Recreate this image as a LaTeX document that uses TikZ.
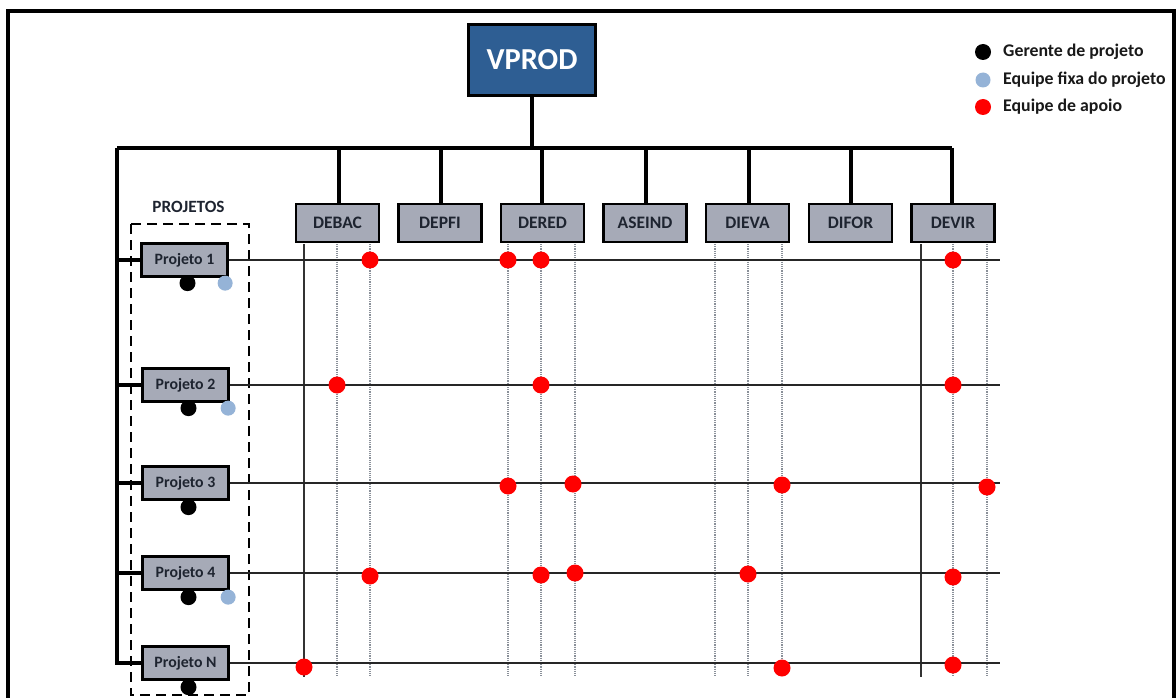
\documentclass[tikz,border=0pt]{standalone}
\usepackage{fontspec}
\setmainfont{Carlito}
\usetikzlibrary{calc}
\definecolor{vblue}{HTML}{2E5E93}
\definecolor{boxgray}{HTML}{A6AAB7}
\definecolor{txt}{HTML}{1E2430}
\definecolor{lblue}{HTML}{95B3D7}
\definecolor{dotgray}{HTML}{8A9099}
\tikzset{
  x=1pt, y=-1pt,
  thickline/.style={line width=3.4},
  thinline/.style={line width=1.2, draw=black!85},
  solidv/.style={line width=1.1, draw=black!80},
  dottedv/.style={line width=1.2, draw=dotgray, dash pattern=on 1.2pt off 1pt},
  topbox/.style={draw=black, line width=2.6, fill=vblue, minimum width=127, minimum height=71, inner sep=0, text=white, font=\bfseries\fontsize{30.5}{30.5}\selectfont},
  dept/.style={draw=black, line width=2.8, fill=boxgray, minimum width=83, minimum height=38, inner sep=0, text=txt, font=\bfseries\fontsize{17.5}{17.5}\selectfont},
  proj/.style={draw=black, line width=2.8, fill=boxgray, minimum width=86.5, minimum height=33.5, inner sep=0, text=txt, font=\bfseries\fontsize{15.8}{15.8}\selectfont},
  bdot/.style={circle, fill=black, minimum size=16, inner sep=0},
  ldot/.style={circle, fill=lblue, minimum size=15, inner sep=0},
  rdot/.style={circle, fill=red, minimum size=17, inner sep=0},
  legtext/.style={anchor=west, inner sep=0, text=black!90, font=\bfseries\fontsize{17.8}{17.8}\selectfont},
}
\begin{document}
\begin{tikzpicture}
\useasboundingbox (0,0) rectangle (1176,698);
\fill[white] (0,0) rectangle (1176,698);
% outer frame
\draw[line width=3.5] (8,698) |- (1174,11) -- (1174,698);

% top box
\node[topbox] (vprod) at (532,60) {VPROD};

% departments
\node[dept] (debac)  at (337.5,223) {DEBAC};
\node[dept] (depfi)  at (440,223) {DEPFI};
\node[dept] (dered)  at (542.5,223) {DERED};
\node[dept] (aseind) at (645,223) {ASEIND};
\node[dept] (dieva)  at (747.5,223) {DIEVA};
\node[dept] (difor)  at (850.5,223) {DIFOR};
\node[dept] (devir)  at (953,223) {DEVIR};

% bus
\coordinate (busL) at (117,148);
\coordinate (busR) at (952,148);
\draw[thickline] (busL) -- (busR);
\draw[thickline] (vprod.south) -- (vprod.south |- busL);
\foreach \d/\x in {debac/339,depfi/441,dered/542,aseind/646,dieva/749,difor/851,devir/952}{
  \coordinate (k\d) at (\x,148);
  \draw[thickline] (k\d) -- (k\d |- \d.north);
}

% projects frame
\draw[line width=2.8, dash pattern=on 10pt off 6pt] (131,224) rectangle (249,695);
\node[font=\bfseries\fontsize{17.2}{17.2}\selectfont, text=txt] (projetos) at (188.5,207) {PROJETOS};

% projects
\node[proj] (p1) at (184.5,260) {Projeto 1};
\node[proj] (p2) at (185.5,385) {Projeto 2};
\node[proj] (p3) at (185.5,483) {Projeto 3};
\node[proj] (p4) at (185.5,573) {Projeto 4};
\node[proj] (pN) at (185.5,663) {Projeto N};

% left bus & stubs
\draw[thickline] (busL) |- (pN.west);
\foreach \p in {p1,p2,p3,p4}{
  \draw[thickline] (\p.west -| busL) -- (\p.west);
}

% vertical department lines
\foreach \n/\x in {a1/304,a2/337,a3/370,b1/508,b2/541,b3/575,c1/715,c2/748,c3/782,d1/921,d2/953,d3/987}{
  \coordinate (\n t) at (\x,244);
  \coordinate (\n b) at (\x,677);
}
\foreach \n in {a2,a3,b1,b2,b3,c1,c2,c3,d2,d3}{
  \draw[dottedv] (\n t) -- (\n b);
}
\draw[solidv] (a1t) -- (a1b);
\draw[solidv] (d1t) -- (d1b);

% horizontal project lines
\coordinate (endx) at (1000,0);
\foreach \p in {p1,p2,p3,p4,pN}{
  \draw[thinline] (\p.east) -- (\p.east -| endx);
}

% project people
\node[bdot] (g1) at ($(p1.south)+(3,5)$) {};
\node[ldot] (f1) at ($(p1.south east)+(-4,5)$) {};
\node[bdot] (g2) at ($(p2.south)+(3,5)$) {};
\node[ldot] (f2) at ($(p2.south east)+(-2,5)$) {};
\node[bdot] (g3) at ($(p3.south)+(3,6)$) {};
\node[bdot] (g4) at ($(p4.south)+(3,6)$) {};
\node[ldot] (f4) at ($(p4.south east)+(-2,6)$) {};
\node[bdot] (gN) at ($(pN.south)+(3,6)$) {};

% support team (red)
\node[rdot] (r11) at (a3t |- p1.east) {};
\node[rdot] (r12) at (b1t |- p1.east) {};
\node[rdot] (r13) at (b2t |- p1.east) {};
\node[rdot] (r14) at (d2t |- p1.east) {};

\node[rdot] (r21) at (a2t |- p2.east) {};
\node[rdot] (r22) at (b2t |- p2.east) {};
\node[rdot] (r23) at (d2t |- p2.east) {};

\node[rdot] (r31) at ($(b1t |- p3.east)+(0,3)$) {};
\node[rdot] (r32) at ($(b3t |- p3.east)+(-2,1)$) {};
\node[rdot] (r33) at ($(c3t |- p3.east)+(0,2)$) {};
\node[rdot] (r34) at ($(d3t |- p3.east)+(0,4)$) {};

\node[rdot] (r41) at ($(a3t |- p4.east)+(0,3)$) {};
\node[rdot] (r42) at ($(b2t |- p4.east)+(0,2)$) {};
\node[rdot] (r43) at ($(b3t |- p4.east)+(0,0)$) {};
\node[rdot] (r44) at ($(c2t |- p4.east)+(0,1)$) {};
\node[rdot] (r45) at ($(d2t |- p4.east)+(0,4)$) {};

\node[rdot] (rN1) at ($(a1t |- pN.east)+(0,4)$) {};
\node[rdot] (rN2) at ($(c3t |- pN.east)+(0,5)$) {};
\node[rdot] (rN3) at ($(d2t |- pN.east)+(0,2)$) {};

% legend
\node[bdot] (lg1) at (983,52) {};
\node[ldot] (lg2) at (983,80) {};
\node[rdot, minimum size=16] (lg3) at (983,107) {};
\node[legtext] (lt1) at (1003,52) {Gerente de projeto};
\node[legtext] (lt2) at (1003,80) {Equipe fixa do projeto};
\node[legtext] (lt3) at (1003,107) {Equipe de apoio};
\end{tikzpicture}
\end{document}
